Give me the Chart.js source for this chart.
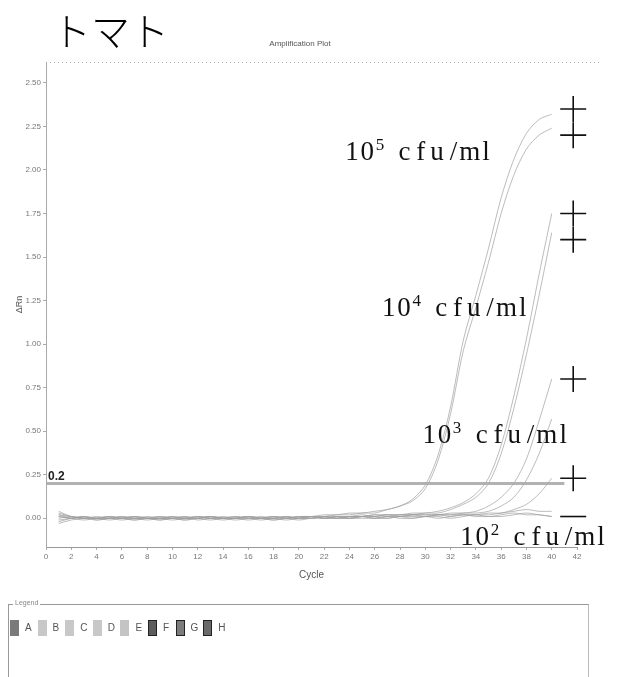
<!DOCTYPE html>
<html>
<head>
<meta charset="utf-8">
<script src="https://cdn.jsdelivr.net/npm/chart.js@4.4.1/dist/chart.umd.min.js"></script>
<style>
  body { margin: 0; background: #fff; }
  #wrap { position: relative; width: 620px; height: 677px; overflow: hidden; }
  #legendBox {
    position: absolute; left: 8px; top: 604px; width: 579px; height: 90px;
    border: 1px solid #999; border-right-color: #bbb;
    font-family: "Liberation Sans Narrow", "Liberation Sans", sans-serif; font-size: 10px; color: #555;
  }
  #legendBox .cap { position: absolute; left: 4px; top: -6px; background: #fff; padding: 0 2px; font-size: 7px; color: #888; }
  #legendBox .item { position: absolute; top: 15px; height: 16px; line-height: 16px; }
  #legendBox .sw { display: inline-block; width: 9px; height: 16px; vertical-align: top; margin-right: 6px; box-sizing: border-box; }
</style>
</head>
<body>
<div id="wrap">
  <canvas id="plot" width="620" height="677"></canvas>
  <div id="legendBox"><span class="cap">Legend</span></div>
</div>
<script>
// cycle numbers and delta Rn readings per well
const cycles = [1,2,3,4,5,6,7,8,9,10,11,12,13,14,15,16,17,18,19,20,21,22,23,24,25,26,27,28,29,30,31,32,33,34,35,36,37,38,39,40];

const rn105a = [0.02,0.01,0.00,0.00,-0.01,0.00,0.01,0.00,-0.01,0.00,0.00,0.01,0.00,-0.01,0.00,0.01,0.00,0.00,0.01,0.00,0.01,0.01,0.02,0.02,0.03,0.03,0.05,0.07,0.11,0.19,0.36,0.64,1.02,1.28,1.55,1.84,2.06,2.21,2.29,2.32];
const rn105b = [-0.01,0.00,0.01,0.00,0.00,-0.01,0.00,0.01,0.00,0.00,0.01,0.00,-0.01,0.00,0.01,0.00,0.00,0.01,0.00,0.01,0.01,0.02,0.02,0.03,0.03,0.04,0.05,0.07,0.10,0.17,0.33,0.60,0.96,1.21,1.47,1.75,1.97,2.12,2.20,2.24];
const rn104a = [0.01,0.00,0.00,-0.01,0.00,0.01,0.00,0.00,0.01,0.00,-0.01,0.00,0.01,0.00,0.00,0.01,0.00,-0.01,0.00,0.01,0.00,0.01,0.01,0.00,0.01,0.02,0.02,0.02,0.03,0.03,0.04,0.06,0.09,0.14,0.23,0.42,0.70,1.03,1.40,1.75];
const rn104b = [0.03,0.01,0.00,0.00,0.01,0.00,-0.01,0.00,0.00,0.01,0.00,0.00,0.01,0.00,-0.01,0.00,0.01,0.00,0.00,0.01,0.01,0.00,0.01,0.01,0.02,0.01,0.02,0.02,0.02,0.03,0.03,0.05,0.08,0.12,0.20,0.37,0.63,0.94,1.28,1.64];
const rn103a = [0.00,0.01,0.00,0.00,0.01,0.00,0.00,-0.01,0.00,0.01,0.00,0.00,0.01,0.00,0.00,-0.01,0.00,0.01,0.00,0.00,0.01,0.00,0.01,0.01,0.01,0.02,0.01,0.02,0.02,0.02,0.02,0.03,0.03,0.04,0.07,0.12,0.20,0.34,0.56,0.80];
const rn103b = [-0.02,0.00,0.01,0.00,0.00,0.00,0.01,0.00,0.00,0.00,0.01,-0.01,0.00,0.00,0.01,0.00,0.00,0.00,0.01,0.00,0.00,0.01,0.00,0.01,0.01,0.01,0.02,0.01,0.02,0.02,0.02,0.02,0.03,0.03,0.04,0.07,0.12,0.22,0.37,0.57];
const rn102a = [0.01,0.00,-0.01,0.00,0.00,0.01,0.00,0.00,0.00,-0.01,0.00,0.01,0.00,0.00,0.00,0.01,0.00,0.00,-0.01,0.00,0.01,0.00,0.00,0.01,0.01,0.00,0.01,0.01,0.02,0.01,0.02,0.02,0.02,0.02,0.03,0.03,0.05,0.08,0.14,0.23];
const rn102b = [0.04,0.01,0.00,0.01,0.00,0.00,-0.01,0.00,0.01,0.00,0.00,0.00,0.01,0.00,0.00,0.00,-0.01,0.00,0.01,0.00,0.00,0.01,0.00,0.00,0.01,0.01,0.00,0.01,0.01,0.01,0.02,0.01,0.02,0.02,0.02,0.03,0.04,0.05,0.04,0.04];
const rnNeg1 = [-0.03,-0.01,0.00,0.00,0.01,0.00,0.00,0.00,-0.01,0.00,0.00,0.01,0.00,0.00,0.00,0.01,0.00,-0.01,0.00,0.00,0.01,0.00,0.00,0.00,0.01,0.00,0.00,0.01,0.00,0.01,0.01,0.00,0.01,0.02,0.01,0.02,0.03,0.02,0.02,0.01];
const rnNeg2 = [0.02,0.00,0.01,-0.01,0.00,0.00,0.01,0.00,0.00,0.00,-0.01,0.00,0.00,0.01,0.00,0.00,0.00,0.01,0.00,-0.01,0.00,0.00,0.01,0.00,0.00,0.00,0.01,0.00,0.00,0.01,0.00,0.01,0.02,0.01,0.01,0.01,0.02,0.03,0.02,0.01];

const wells = [rn105a, rn105b, rn104a, rn104b, rn103a, rn103b, rn102a, rn102b, rnNeg1, rnNeg2];

const threshold = 0.2;
const yTicks = [0, 0.25, 0.5, 0.75, 1, 1.25, 1.5, 1.75, 2, 2.25, 2.5];

// hand-marked end points (cycle, delta Rn)
const markCycle = 41.7;
const markValues = [2.35, 2.20, 1.75, 1.60, 0.80, 0.23];

// concentration labels and where they sit (cycle, delta Rn of baseline)
const concPower = ['5', '4', '3', '2'];
const concAt = [[23.6, 2.06], [26.5, 1.16], [29.7, 0.43], [32.7, -0.155]];

const legendRows = ['A', 'B', 'C', 'D', 'E', 'F', 'G', 'H'];
const legendFill = ['#7a7a7a', '#c8c8c8', '#c8c8c8', '#c8c8c8', '#c4c4c4', '#5c5c5c', '#7c7c7c', '#6a6a6a'];

const tickFont = { family: '"Liberation Sans Narrow", "Liberation Sans", sans-serif', size: 8 };

const datasets = wells.map(w => ({
    data: cycles.map((c, i) => ({ x: c, y: w[i] })),
    borderColor: 'rgba(160,160,160,0.7)',
    borderWidth: 1,
    pointRadius: 0,
    tension: 0.3
}));

datasets.unshift({
    data: [{ x: 0, y: threshold }, { x: 41, y: threshold }],
    borderColor: 'rgba(170,170,170,0.9)',
    borderWidth: 3,
    pointRadius: 0
});

datasets.push({
    type: 'scatter',
    data: markValues.map(v => ({ x: markCycle, y: v })),
    pointStyle: 'cross',
    pointRadius: 13,
    borderColor: '#111',
    borderWidth: 1.6,
    clip: false
});

// the short dashes under the crosses
datasets.push({
    type: 'scatter',
    data: [{ x: markCycle, y: 0.01 }, { x: 44.1, y: 0.01 }],
    pointStyle: 'line',
    pointRadius: 13,
    borderColor: '#111',
    borderWidth: 1.6,
    clip: false
});

const decorations = {
    id: 'decorations',
    afterDraw(chart) {
        const ctx = chart.ctx;
        const xs = chart.scales.x, ys = chart.scales.y;
        const area = chart.chartArea;
        ctx.save();

        // dotted frame on top
        ctx.strokeStyle = '#aaa';
        ctx.lineWidth = 1;
        ctx.setLineDash([1, 3]);
        ctx.beginPath();
        ctx.moveTo(area.left, area.top + 0.5);
        ctx.lineTo(area.right + 25, area.top + 0.5);
        ctx.stroke();
        ctx.setLineDash([]);

        ctx.fillStyle = '#000';
        ctx.font = '300 39px "Noto Sans CJK JP"';
        ctx.textBaseline = 'alphabetic';
        ctx.fillText('トマト', 52, 46);

        ctx.fillStyle = '#555';
        ctx.font = '8px "Liberation Sans Narrow", "Liberation Sans", sans-serif';
        ctx.textAlign = 'center';
        ctx.fillText('Amplification Plot', 300, 46);

        ctx.textAlign = 'left';
        ctx.fillStyle = '#222';
        ctx.font = 'bold 12px "Liberation Sans Narrow", "Liberation Sans", sans-serif';
        ctx.fillText('0.2', area.left + 2, ys.getPixelForValue(threshold) - 3);

        // concentration labels, one fixed-width cell per character
        const cell = 15.3, cell2 = 16.3;
        concAt.forEach(([c, v], i) => {
            const x0 = xs.getPixelForValue(c);
            const yb = ys.getPixelForValue(v);
            ctx.fillStyle = '#111';
            ctx.textAlign = 'center';
            ctx.font = '27px "Liberation Serif", serif';
            ['1', '0'].forEach((ch, k) => ctx.fillText(ch, x0 + cell * k + cell / 2, yb));
            ctx.font = '17px "Liberation Serif", serif';
            ctx.fillText(concPower[i], x0 + 2 * cell + 5, yb - 10);
            ctx.font = '27px "Liberation Serif", serif';
            'cfu/ml'.split('').forEach((ch, k) => ctx.fillText(ch, x0 + 52 + cell2 * k + cell2 / 2, yb));
        });
        ctx.restore();
    }
};

new Chart(document.getElementById('plot'), {
    type: 'line',
    data: { datasets },
    options: {
        responsive: false,
        animation: false,
        layout: { padding: { left: 0, top: 62, right: 43, bottom: 90 } },
        plugins: { legend: { display: false }, tooltip: { enabled: false } },
        scales: {
            x: {
                type: 'linear',
                min: 0,
                max: 42,
                ticks: { stepSize: 2, color: '#777', font: tickFont, padding: 2, maxRotation: 0 },
                grid: { drawOnChartArea: false, tickLength: 3, color: '#aaa' },
                border: { color: '#999', dash: [2, 1] },
                title: { display: true, text: 'Cycle', color: '#555', font: { family: tickFont.family, size: 10 }, padding: { top: 4, bottom: 6 } },
                afterFit(scale) { scale.height = 40; }
            },
            y: {
                min: -0.165,
                max: 2.62,
                afterBuildTicks(scale) { scale.ticks = yTicks.map(v => ({ value: v })); },
                ticks: { color: '#777', font: tickFont, padding: 2, callback: v => v.toFixed(2) },
                grid: { drawOnChartArea: false, tickLength: 3, color: '#aaa' },
                border: { color: '#aaa', dash: [1, 2] },
                title: { display: true, text: 'ΔRn', color: '#555', font: { family: tickFont.family, size: 9 }, padding: { top: 14, bottom: 2 } },
                afterFit(scale) { scale.width = 46; }
            }
        }
    },
    plugins: [decorations]
});

// well-row legend
const box = document.getElementById('legendBox');
legendRows.forEach((r, i) => {
    const it = document.createElement('span');
    it.className = 'item';
    it.style.left = (1 + i * 27.6) + 'px';
    const sw = document.createElement('span');
    sw.className = 'sw';
    sw.style.background = legendFill[i];
    if (i >= 5) sw.style.border = '1px solid #222';
    it.appendChild(sw);
    it.appendChild(document.createTextNode(r));
    box.appendChild(it);
});
</script>
</body>
</html>
